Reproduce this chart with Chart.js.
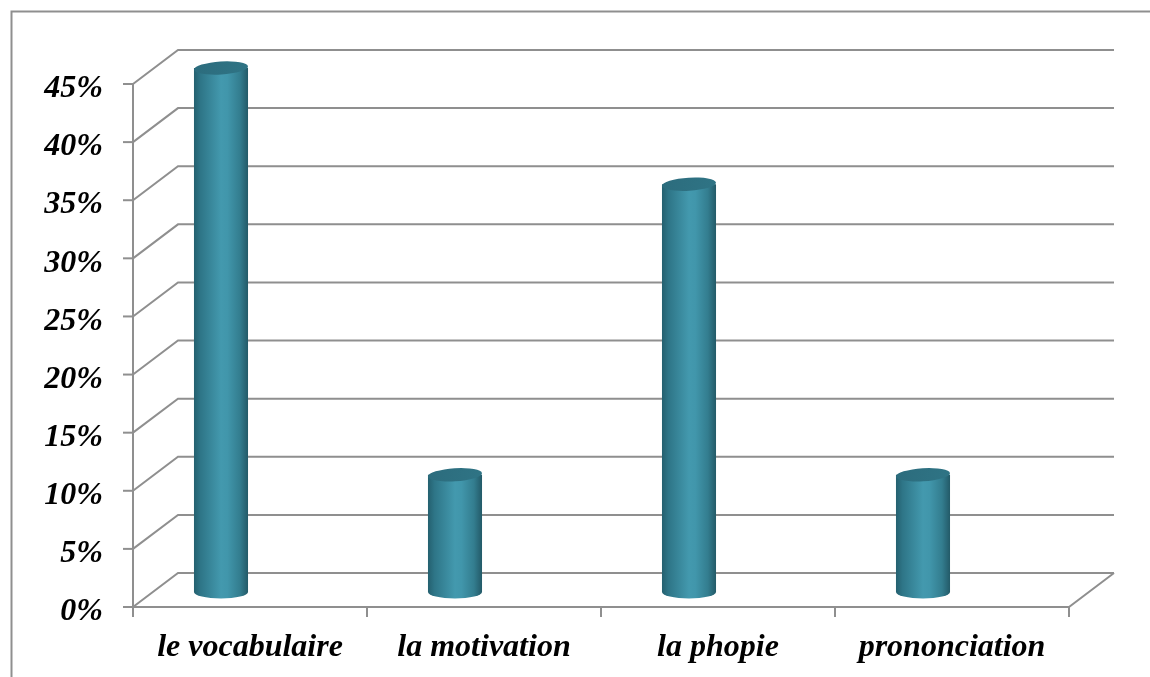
<!DOCTYPE html>
<html>
<head>
<meta charset="utf-8">
<script src="https://cdn.jsdelivr.net/npm/chart.js@4.4.1/dist/chart.umd.min.js"></script>
<style>
  html, body { margin: 0; padding: 0; background: #ffffff; }
  #wrap { width: 1150px; height: 677px; }
</style>
</head>
<body>
<div id="wrap"><canvas id="c" width="1150" height="677"></canvas></div>
<script>
const categories = ['le vocabulaire', 'la motivation', 'la phopie', 'prononciation'];
const values = [45, 10, 35, 10];
const yTicks = [0, 5, 10, 15, 20, 25, 30, 35, 40, 45];

const DEPTH_X = 45, DEPTH_Y = -34;
const GRID = '#8f8f8f';

const threeD = {
  id: 'threeD',
  beforeDatasetsDraw(chart) {
    const ctx = chart.ctx;
    const ys = chart.scales.y, xs = chart.scales.x;
    const L = xs.left, R = xs.right, B = ys.bottom, T = ys.top;
    ctx.save();
    ctx.strokeStyle = GRID;
    ctx.lineWidth = 2;
    ctx.lineCap = 'butt';
    // outer frame
    ctx.beginPath();
    ctx.moveTo(11.5, 677); ctx.lineTo(11.5, 11.5); ctx.lineTo(1152, 11.5);
    ctx.stroke();
    // back wall gridlines and side diagonals
    yTicks.forEach(v => {
      const yp = ys.getPixelForValue(v);
      ctx.beginPath();
      ctx.moveTo(L, yp);
      ctx.lineTo(L + DEPTH_X, yp + DEPTH_Y);
      ctx.lineTo(R + DEPTH_X, yp + DEPTH_Y);
      ctx.stroke();
      ctx.beginPath();
      ctx.moveTo(L - 10, yp); ctx.lineTo(L, yp);
      ctx.stroke();
    });
    // floor front edge + right diagonal
    ctx.beginPath();
    ctx.moveTo(L, B); ctx.lineTo(R, B); ctx.lineTo(R + DEPTH_X, B + DEPTH_Y);
    ctx.stroke();
    // vertical axis
    ctx.beginPath();
    ctx.moveTo(L, T); ctx.lineTo(L, B);
    ctx.stroke();
    // x tick marks
    const n = categories.length;
    for (let i = 0; i <= n; i++) {
      const xp = L + i * (R - L) / n;
      ctx.beginPath();
      ctx.moveTo(xp, B); ctx.lineTo(xp, B + 10);
      ctx.stroke();
    }
    ctx.restore();
  },
  afterDatasetsDraw(chart) {
    const ctx = chart.ctx;
    const meta = chart.getDatasetMeta(0);
    meta.data.forEach(el => {
      const p = el.getProps(['x', 'y', 'base', 'width'], true);
      const cx = p.x - 29;
      const rx = p.width / 2;
      const ry = 6.5;
      const top = p.y - 16;
      const bot = p.base - 15;
      const x0 = cx - rx, x1 = cx + rx;
      const g = ctx.createLinearGradient(x0, 0, x1, 0);
      g.addColorStop(0, '#24606f');
      g.addColorStop(0.12, '#2e7587');
      g.addColorStop(0.5, '#4399ae');
      g.addColorStop(0.62, '#4196ab');
      g.addColorStop(0.85, '#337d8f');
      g.addColorStop(1, '#235a68');
      ctx.save();
      ctx.beginPath();
      ctx.moveTo(x0, top);
      ctx.lineTo(x0, bot);
      ctx.ellipse(cx, bot, rx, ry, 0, Math.PI, 0, true);
      ctx.lineTo(x1, top);
      ctx.closePath();
      ctx.fillStyle = g;
      ctx.fill();
      const gt = ctx.createLinearGradient(x0, top - ry, x1, top + ry);
      gt.addColorStop(0, '#2c6c7d');
      gt.addColorStop(1, '#2f7485');
      ctx.beginPath();
      ctx.ellipse(cx, top, rx, ry, -0.06, 0, Math.PI * 2);
      ctx.fillStyle = gt;
      ctx.fill();
      ctx.restore();
    });
  }
};

const labelFont = { family: 'Liberation Serif', size: 32, weight: 'bold', style: 'italic' };

new Chart(document.getElementById('c'), {
  type: 'bar',
  data: {
    labels: categories,
    datasets: [{
      data: values,
      backgroundColor: 'rgba(0,0,0,0)',
      borderWidth: 0,
      barPercentage: 0.231,
      categoryPercentage: 1.0
    }]
  },
  options: {
    responsive: false,
    animation: false,
    events: [],
    layout: { padding: { left: 0, top: 84, right: 81, bottom: 0 } },
    plugins: { legend: { display: false }, tooltip: { enabled: false } },
    scales: {
      y: {
        min: 0, max: 45,
        afterFit(s) { s.width = 133; },
        ticks: {
          stepSize: 5,
          callback: v => v + '%',
          font: labelFont,
          color: '#000',
          padding: 30,
          labelOffset: 5
        },
        grid: { display: false, drawTicks: false },
        border: { display: false }
      },
      x: {
        afterFit(s) { s.height = 70; },
        ticks: { font: labelFont, color: '#000', padding: 22, maxRotation: 0 },
        grid: { display: false, drawTicks: false },
        border: { display: false }
      }
    }
  },
  plugins: [threeD]
});
</script>
</body>
</html>
